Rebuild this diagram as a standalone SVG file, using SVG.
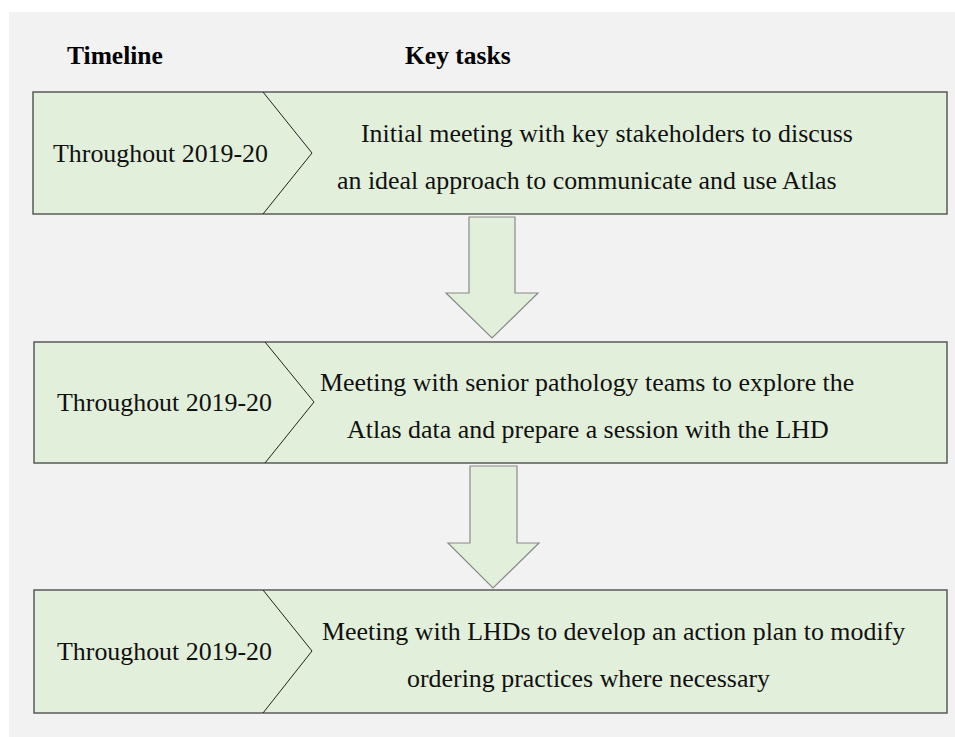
<svg xmlns="http://www.w3.org/2000/svg" width="955" height="737" viewBox="0 0 955 737">
<style>
.bg{fill:#f2f2f2}
.box{fill:#e2efda;stroke:#5a5a5a;stroke-width:1.5}
.chev{fill:none;stroke:#222;stroke-width:1}
.arr{fill:#e2efda;stroke:#8a8a8a;stroke-width:1.2}
.hd{font-family:"Liberation Serif","Times New Roman",serif;font-weight:bold;font-size:25.5px;fill:#000}
.tx{font-family:"Liberation Serif","Times New Roman",serif;font-size:25.9px;fill:#111}
</style>
<rect x="0" y="0" width="955" height="737" fill="#ffffff"/>
<rect class="bg" x="9" y="12" width="946" height="725"/>
<text class="hd" x="67" y="64">Timeline</text>
<text class="hd" x="405" y="64">Key tasks</text>
<g id="node1">
<rect class="box" x="33" y="92" width="914" height="122"/>
<polyline class="chev" points="263,92 312,153 263,214"/>
<text class="tx" x="53" y="162">Throughout 2019-20</text>
<text class="tx" x="361" y="142">Initial meeting with key stakeholders to discuss</text>
<text class="tx" x="337" y="189">an ideal approach to communicate and use Atlas</text>
</g>
<g id="node2">
<rect class="box" x="34" y="342" width="913" height="121"/>
<polyline class="chev" points="265,342 314,402 265,463"/>
<text class="tx" x="57" y="411">Throughout 2019-20</text>
<text class="tx" x="320" y="391">Meeting with senior pathology teams to explore the</text>
<text class="tx" x="347" y="438">Atlas data and prepare a session with the LHD</text>
</g>
<g id="node3">
<rect class="box" x="34" y="590" width="913" height="123"/>
<polyline class="chev" points="263,590 312,651 263,713"/>
<text class="tx" x="57" y="660">Throughout 2019-20</text>
<text class="tx" x="322" y="640">Meeting with LHDs to develop an action plan to modify</text>
<text class="tx" x="407" y="687">ordering practices where necessary</text>
</g>
<g id="connectors">
<polygon class="arr" points="469,217 515,217 515,293 538,293 492,338 446,293 469,293"/>
<polygon class="arr" points="470,466 517,466 517,543 539,543 493,588 448,543 470,543"/>
</g>
</svg>
